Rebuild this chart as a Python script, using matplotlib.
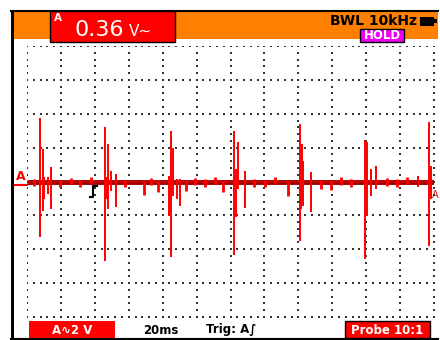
import matplotlib.pyplot as plt
from matplotlib.patches import Rectangle

# scope settings: 12 x 8 divisions, 20 ms/div, 2 V/div
ms_per_div = 20
v_per_div = 2
n_xdiv = 12
n_ydiv = 8

# spikes as (time ms, top V, bottom V), one list per burst
burst_1 = [(7.7, 3.75, -3.27), (9.3, 1.92, -1.74), (10.0, 0.27, -1.03),
           (12.4, 0.27, -0.74), (14.0, 0.86, -1.62)]
burst_2 = [(46.2, 3.24, -4.69), (47.2, 0.27, -1.03), (47.8, 2.21, -1.62),
           (49.4, 0.62, -0.56), (52.5, 0.44, -1.50)]
burst_3 = [(83.6, 0.32, -2.04), (85.0, 2.98, -4.45), (86.3, 1.98, -0.86),
           (88.3, 0.15, -1.03), (90.3, 0.15, -1.45)]
burst_4 = [(122.3, 2.98, -4.34), (123.3, 0.74, -2.09), (124.7, 2.33, -0.44),
           (128.6, 0.62, -1.56)]
burst_5 = [(160.7, 3.39, -3.51), (161.7, 0.27, -1.62), (162.4, 2.21, -1.03),
           (163.0, 1.21, -1.45), (167.4, 0.56, -1.80)]
burst_6 = [(199.4, 2.45, -4.57), (200.6, 2.31, -2.04), (202.8, 0.74, -0.86),
           (205.9, 0.91, -0.44)]
burst_7 = [(230.7, 0.30, -0.30), (237.2, 3.51, -3.80), (238.5, 0.91, -1.03)]

# small blips riding on the baseline
noise = [(4.0, 0.15, -0.25), (19.5, 0.10, -0.30), (26.0, 0.20, -0.15),
         (31.5, 0.10, -0.35), (38.0, 0.25, -0.10), (58.0, 0.10, -0.30),
         (69.0, 0.05, -0.80), (73.0, 0.20, -0.20), (77.3, 0.05, -0.62),
         (93.8, 0.10, -0.56), (99.0, 0.20, -0.20), (105.0, 0.15, -0.30),
         (111.0, 0.25, -0.15), (115.5, 0.05, -0.62), (134.0, 0.15, -0.35),
         (140.4, 0.10, -0.32), (146.0, 0.25, -0.10), (153.8, 0.05, -0.86),
         (173.3, 0.10, -0.44), (179.4, 0.05, -0.48), (185.0, 0.25, -0.20),
         (191.0, 0.15, -0.30), (212.0, 0.20, -0.25), (218.0, 0.15, -0.35),
         (224.0, 0.25, -0.15)]

bursts = [burst_1, burst_2, burst_3, burst_4, burst_5, burst_6, burst_7]

W, H = 440, 340
fig = plt.figure(figsize=(W / 100, H / 100), dpi=100, facecolor='white')

# background layer in pixel coordinates: frame, status bars, labels
ov = fig.add_axes([0, 0, 1, 1], zorder=0)
ov.set_xlim(0, W)
ov.set_ylim(H, 0)
ov.axis('off')

red = '#ff0000'
orange = '#ff7f00'

ov.add_patch(Rectangle((13, 11), 425, 28, fc=orange, ec='none'))
ov.plot([11, 438], [10.5, 10.5], color='black', lw=1.5)
ov.add_patch(Rectangle((11, 10), 2.5, 329, fc='black', ec='none'))
ov.plot([11, 438], [338.5, 338.5], color='black', lw=1.5)

# reading box
ov.add_patch(Rectangle((50, 11), 125, 31, fc=red, ec='black', lw=1))
ov.text(58, 18, 'A', color='white', fontsize=7.5, fontweight='bold',
        ha='center', va='center')
ov.text(99, 30, '0.36', color='white', fontsize=16,
        family=['Liberation Sans Narrow', 'DejaVu Sans'],
        ha='center', va='center')
ov.text(140, 31.5, 'V~', color='white', fontsize=11,
        family=['Liberation Sans Narrow', 'DejaVu Sans'],
        ha='center', va='center')

# bandwidth limit, battery, hold
ov.text(373, 21, 'BWL 10kHz', color='black', fontsize=10, fontweight='bold',
        ha='center', va='center')
ov.add_patch(Rectangle((420, 16.5), 14, 9, fc='black', ec='none'))
ov.add_patch(Rectangle((434, 19), 2.5, 4, fc='black', ec='none'))
ov.add_patch(Rectangle((360, 28.5), 44, 13.5, fc='#f000f0', ec='black', lw=1))
ov.text(382, 35.5, 'HOLD', color='white', fontsize=8.5, fontweight='bold',
        ha='center', va='center')

# bottom status line
ov.add_patch(Rectangle((29, 321), 86, 17, fc=red, ec='none'))
ov.text(72, 330, 'A∿2 V', color='white', fontsize=8.5, fontweight='bold',
        ha='center', va='center')
ov.text(161, 330, '20ms', color='black', fontsize=8.5, fontweight='bold',
        ha='center', va='center')
ov.text(231, 330, 'Trig: A∫', color='black', fontsize=8.5, fontweight='bold',
        ha='center', va='center')
ov.add_patch(Rectangle((345, 321), 85, 17, fc=red, ec='black', lw=1))
ov.text(387.5, 330, 'Probe 10:1', color='white', fontsize=8.5,
        fontweight='bold', ha='center', va='center')

# channel markers and trigger symbol
ov.text(21, 177, 'A', color=red, fontsize=9, fontweight='bold',
        ha='center', va='center')
ov.plot([15, 27], [185, 185], color=red, lw=1.5)
ov.text(435.5, 195, 'A', color=red, fontsize=7, ha='center', va='center')
ov.plot([97, 93, 93, 90], [186, 186, 196.5, 196.5], color='black', lw=1.5)

# screen area
t_max = n_xdiv * ms_per_div
v_max = n_ydiv / 2 * v_per_div
ax = fig.add_axes([27 / W, (H - 317) / H, 407 / W, 271 / H], zorder=1)
ax.patch.set_visible(False)
ax.set_xlim(0, t_max)
ax.set_ylim(-v_max, v_max)
ax.axis('off')

# dotted graticule: five dots per division on every line
step_t = ms_per_div / 5
step_v = v_per_div / 5
gx, gy = [], []
for i in range(n_xdiv + 1):
    for k in range(n_ydiv * 5 + 1):
        gx.append(i * ms_per_div)
        gy.append(-v_max + k * step_v)
for j in range(n_ydiv + 1):
    for k in range(n_xdiv * 5 + 1):
        gx.append(k * step_t)
        gy.append(-v_max + j * v_per_div)
ax.scatter(gx, gy, s=1.2, marker='s', color='#333333', linewidths=0,
           zorder=1)

# trace: baseline band, blips, spikes
ax.plot([0, t_max], [0, 0], color='#9a0000', lw=3.5, zorder=2,
        solid_capstyle='butt')
ax.plot([0, t_max], [0, 0], color='#d00000', lw=1.2, zorder=3)
ax.vlines([n[0] for n in noise], [n[2] for n in noise], [n[1] for n in noise],
          color=red, lw=2, zorder=3)
for b in bursts:
    ax.vlines([s[0] for s in b], [s[2] for s in b], [s[1] for s in b],
              color=red, lw=1.4, zorder=4)

fig.savefig('out.png', dpi=100, facecolor='white')
